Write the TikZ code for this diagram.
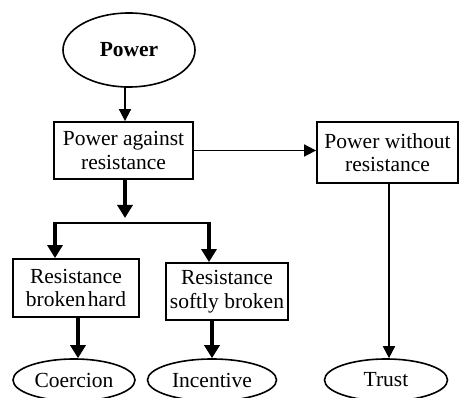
\documentclass[tikz,border=0pt]{standalone}
\usepackage{fontspec}
\setmainfont{Liberation Serif}
\usetikzlibrary{arrows.meta,shapes.geometric}
\begin{document}
\begin{tikzpicture}[x=1pt,y=-1pt,
  every node/.style={font=\fontsize{21.5}{23.5}\selectfont, align=center, inner sep=0pt},
  boxn/.style={draw, line width=1.8pt, rectangle},
  ovaln/.style={draw, line width=1.6pt, ellipse},
  thin arrow/.style={line width=1.7pt, -{Triangle[length=12pt,width=12pt]}},
  thick arrow/.style={line width=3.2pt, -{Triangle[length=13pt,width=15pt]}}]
\useasboundingbox (0,0) rectangle (459,398);
\node[ovaln, minimum width=132pt, minimum height=74pt] (power) at (129,50) {\textbf{Power}};
\node[boxn, minimum width=139pt, minimum height=57pt] (pag) at (123.5,150.5) {Power against\\resistance};
\node[boxn, minimum width=141pt, minimum height=61pt] (pwo) at (387.5,152.5) {Power without\\resistance};
\node[boxn, minimum width=126pt, minimum height=58pt] (rbh) at (76,288) {Resistance\\broken\hspace{0.1em}hard};
\node[boxn, minimum width=122pt, minimum height=57pt] (rsb) at (227,291.5) {Resistance\\softly broken};
\node[ovaln, minimum width=122pt, minimum height=42pt] (coe) at (74,380) {Coercion};
\node[ovaln, minimum width=129pt, minimum height=42pt] (inc) at (212,380) {Incentive};
\node[ovaln, minimum width=123pt, minimum height=42pt] (tru) at (386,380) {Trust};
\coordinate (split) at (125,223);
\coordinate (sl) at (55,223);
\coordinate (sr) at (209,223);
\draw[thin arrow] (125,87) -- (pag.north -| 125,0);
\draw[thin arrow] (pag.east) -- (pag.east -| pwo.west);
\draw[thin arrow] (pwo.south -| 389,0) -- (tru.north -| 389,0);
\draw[thick arrow] (pag.south -| split) -- (125,218);
\draw[line width=2pt] (sl) -- (sr);
\draw[thick arrow] (55,222) -- (rbh.north -| sl);
\draw[thick arrow] (209,222) -- (rsb.north -| sr);
\draw[thick arrow] (rbh.south -| 78,0) -- (coe.north -| 78,0);
\draw[thick arrow] (rsb.south -| inc.north) -- (inc.north);
\end{tikzpicture}
\end{document}
